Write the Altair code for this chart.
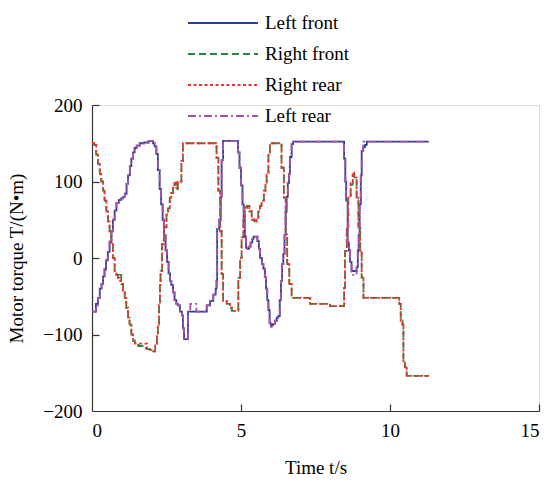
import altair as alt
import pandas as pd

series_names = ["Left front", "Right front", "Right rear", "Left rear"]
series_colors = ["#2e3c97", "#24883c", "#ff2a2a", "#a653a6"]
series_dashes = [[1, 0], [7, 4], [3, 2.5], [8, 3, 2, 3]]

# left-side motors (time s, torque N·m)
t_left = [0, 0.13, 0.2, 0.26, 0.32, 0.37, 0.42, 0.47, 0.53, 0.59, 0.65, 0.70, 0.76, 0.82, 0.9, 0.98,
          1.04, 1.1, 1.16, 1.21, 1.27, 1.32, 1.38, 1.43, 1.5, 1.6, 1.75, 1.9, 2.05, 2.1, 2.16, 2.21,
          2.27, 2.32, 2.37, 2.42, 2.47, 2.52, 2.57, 2.62, 2.66, 2.72, 2.77, 2.83, 2.88, 2.95, 3.02,
          3.05, 3.09, 3.17, 3.22, 3.3, 3.5, 3.8, 3.85, 3.96, 4.07, 4.15, 4.18, 4.2, 4.27, 4.32, 4.35,
          4.4, 4.86, 4.9, 4.95, 5.0, 5.05, 5.09, 5.13, 5.17, 5.22, 5.27, 5.32, 5.38, 5.42, 5.5, 5.55,
          5.6, 5.64, 5.7, 5.75, 5.8, 5.84, 5.88, 5.92, 5.96, 6.0, 6.07, 6.14, 6.2, 6.25, 6.3, 6.34,
          6.38, 6.42, 6.46, 6.5, 6.53, 6.57, 6.61, 6.64, 6.7, 6.75, 8.43, 8.46, 8.5, 8.53, 8.58, 8.62,
          8.66, 8.71, 8.8, 8.88, 8.92, 8.95, 8.98, 9.02, 9.05, 9.1, 9.16, 9.22, 11.3]
left_front = [-70, -60, -52, -40, -34, -24, -15, -3, 8, 20, 35, 50, 62, 72, 76, 78,
              80, 84, 97, 108, 120, 130, 138, 144, 147, 150, 151, 153, 150, 146, 136, 115,
              90, 70, 50, 30, 10, -5, -20, -30, -35, -45, -55, -60, -62, -70, -75,
              -92, -106, -106, -70, -70, -70, -70, -62, -56, -48, -40, -30, 38, 50, 80, 128,
              153, 153, 138, 118, 95, 70, 50, 28, 13, 12, 15, 20, 25, 28, 28, 22,
              12, 0, -8, -14, -25, -40, -55, -68, -85, -88, -86, -82, -78, -76, -55, -30,
              -8, 5, 30, 60, 80, 98, 110, 132, 149, 152, 152, 130, 100, 75, 20, 10,
              -5, -17, -17, -12, 10, 30, 70, 108, 140, 145, 148, 152, 152]
left_rear = [-70, -62, -52, -42, -34, -24, -13, -3, 8, 22, 35, 50, 62, 72, 76, 78,
             80, 84, 97, 108, 120, 130, 138, 144, 147, 150, 151, 153, 150, 146, 136, 115,
             90, 70, 50, 30, 10, -5, -20, -30, -35, -45, -55, -60, -62, -70, -75,
             -92, -106, -106, -70, -60, -70, -70, -62, -56, -48, -40, -30, 38, 50, 80, 128,
             153, 153, 138, 118, 95, 70, 50, 28, 13, 12, 15, 20, 25, 28, 28, 22,
             12, 0, -8, -14, -25, -40, -55, -68, -85, -90, -86, -82, -78, -76, -55, -30,
             -8, 5, 30, 60, 80, 98, 110, 132, 149, 152, 152, 130, 100, 75, 20, 10,
             -5, -22, -22, -12, 10, 30, 70, 108, 140, 152, 152, 152, 152]

# right-side motors (time s, torque N·m)
t_right = [0, 0.07, 0.14, 0.2, 0.26, 0.31, 0.37, 0.42, 0.48, 0.54, 0.59, 0.65, 0.7, 0.76, 0.82, 0.87,
           0.93, 0.98, 1.04, 1.1, 1.15, 1.21, 1.26, 1.32, 1.38, 1.44, 1.55, 1.7, 1.85, 1.95, 2.05,
           2.12, 2.18, 2.21, 2.25, 2.28, 2.3, 2.35, 2.42, 2.5, 2.55, 2.61, 2.66, 2.72, 2.77, 2.82,
           2.88, 2.94, 3.0, 3.05, 4.13, 4.18, 4.24, 4.3, 4.35, 4.4, 4.52, 4.63, 4.69, 4.86, 4.91,
           4.97, 5.02, 5.08, 5.13, 5.2, 5.28, 5.36, 5.45, 5.52, 5.58, 5.64, 5.69, 5.77, 5.82, 5.86,
           5.92, 5.97, 6.31, 6.36, 6.44, 6.5, 6.55, 6.62, 6.7, 7.2, 7.32, 7.88, 7.99, 8.43, 8.46,
           8.49, 8.55, 8.6, 8.68, 8.75, 8.8, 8.88, 8.94, 9.0, 9.05, 9.11, 10.22, 10.31, 10.36,
           10.42, 10.45, 10.5, 10.56, 11.3]
right_front = [150, 148, 135, 123, 110, 100, 88, 75, 61, 48, 35, 18, 0, -17, -22, -26,
               -22, -34, -43, -52, -65, -78, -87, -100, -108, -112, -115, -118, -119, -120, -122,
               -112, -100, -87, -61, -35, -17, 18, 40, 57, 65, 79, 85, 92, 98, 90,
               100, 100, 127, 150, 150, 131, 88, 35, -21, -56, -60, -65, -69, -69, -26,
               0, 27, 53, 66, 68, 61, 50, 48, 52, 61, 68, 75, 88, 98, 109,
               135, 150, 150, 118, 79, 31, -8, -34, -52, -52, -60, -60, -63, -63, -39,
               9, 40, 79, 96, 109, 105, 79, 40, 9, -26, -52, -52, -60, -82,
               -87, -135, -143, -154, -154]
right_rear = [150, 148, 135, 123, 110, 100, 88, 75, 61, 48, 35, 18, 0, -17, -22, -26,
              -30, -34, -43, -52, -65, -78, -87, -100, -108, -112, -112, -112, -119, -120, -122,
              -112, -100, -87, -61, -35, -17, 18, 40, 57, 65, 79, 85, 92, 100, 92,
              100, 100, 127, 150, 150, 131, 88, 35, -21, -56, -60, -65, -69, -69, -26,
              0, 27, 53, 66, 68, 61, 50, 48, 52, 61, 68, 75, 88, 98, 109,
              135, 150, 150, 118, 79, 31, -8, -34, -52, -52, -60, -60, -63, -63, -39,
              9, 40, 79, 100, 112, 105, 79, 40, 9, -26, -52, -52, -60, -82,
              -87, -135, -143, -154, -154]

frames = []
for name, t, v in [("Left front", t_left, left_front), ("Right front", t_right, right_front),
                   ("Right rear", t_right, right_rear), ("Left rear", t_left, left_rear)]:
    frames.append(pd.DataFrame({"t": t, "T": v, "series": name}))
df = pd.concat(frames, ignore_index=True)

FONT = "Liberation Serif"
W, H = 447, 306

xs = alt.Scale(domain=[0, 15], nice=False, zero=False)
ys = alt.Scale(domain=[-200, 200], nice=False, zero=False)

main_x_axis = alt.Axis(values=[0, 5, 10, 15], ticks=False, grid=False, domainColor="#333333",
                       domainWidth=1.2, labelFont=FONT, labelFontSize=19, labelColor="black",
                       labelPadding=10, title="Time  t/s", titleFont=FONT, titleFontSize=19,
                       titleFontWeight="normal", titleColor="black", titlePadding=18)
main_y_axis = alt.Axis(values=[-200, -100, 0, 100, 200], ticks=False, grid=False,
                       domainColor="#333333", domainWidth=1.2, labelFont=FONT, labelFontSize=19,
                       labelColor="black", labelPadding=10, title="Motor torque T/(N•m)",
                       titleFont=FONT, titleFontSize=19, titleFontWeight="normal",
                       titleColor="black", titlePadding=16)

legend = alt.Legend(title=None, orient="none", legendX=120, legendY=-93,
                    symbolType="M-3.5,0H3.5", symbolSize=400, symbolStrokeWidth=2,
                    symbolFillColor="transparent",
                    labelFont=FONT, labelFontSize=19, labelColor="black", rowPadding=10,
                    labelOffset=31)

color_enc = alt.Color("series:N", scale=alt.Scale(domain=series_names, range=series_colors),
                      legend=legend)
dash_enc = alt.StrokeDash("series:N", scale=alt.Scale(domain=series_names, range=series_dashes),
                          legend=legend)

layers = []
for i, name in enumerate(series_names):
    layers.append(
        alt.Chart(df).transform_filter(alt.datum.series == name)
        .mark_line(interpolate="step-after", strokeWidth=1.8)
        .encode(x=alt.X("t:Q", scale=xs, axis=main_x_axis if i == 0 else None),
                y=alt.Y("T:Q", scale=ys, axis=main_y_axis if i == 0 else None),
                color=color_enc, strokeDash=dash_enc)
    )

tick_layer = alt.Chart(df).mark_point(opacity=0).encode(
    x=alt.X("t:Q", scale=xs, axis=alt.Axis(orient="top", offset=-H, values=[5, 10, 15],
                                           labels=False, domain=False, grid=False, tickSize=7,
                                           tickColor="#333333", tickWidth=1.2, title=None)),
    y=alt.Y("T:Q", scale=ys, axis=alt.Axis(orient="right", offset=-W, values=[-100, 0, 100, 200],
                                           labels=False, domain=False, grid=False, tickSize=7,
                                           tickColor="#333333", tickWidth=1.2, title=None)),
)

chart = alt.layer(*layers, tick_layer).resolve_axis(x="independent", y="independent").properties(
    width=W, height=H,
    autosize=alt.AutoSizeParams(type="none"),
    padding={"left": 92, "top": 105, "right": 12, "bottom": 73},
).configure_view(stroke=None).configure(background="white")

chart.save("out.html", embed_options={"renderer": "svg", "actions": False})
